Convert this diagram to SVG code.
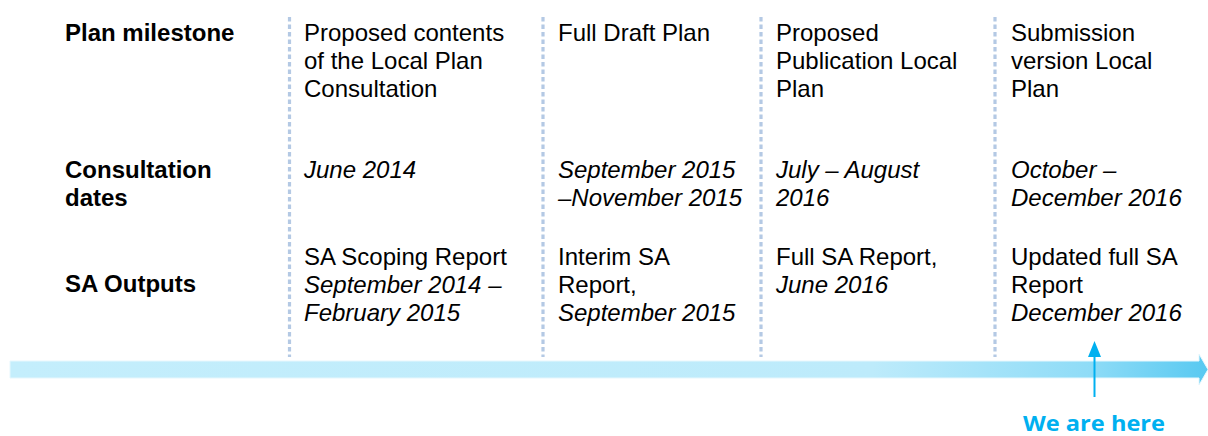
<svg xmlns="http://www.w3.org/2000/svg" width="1208" height="436" viewBox="0 0 1208 436">
<defs>
<linearGradient id="barGrad" x1="0" y1="0" x2="1" y2="0">
<stop offset="0" stop-color="#c4eefc"/>
<stop offset="0.72" stop-color="#bdebfb"/>
<stop offset="0.9" stop-color="#8fdcf7"/>
<stop offset="1" stop-color="#58c9f1"/>
</linearGradient>
</defs>
<style>
text{font-family:"Liberation Sans",Arial,sans-serif;font-size:24px;fill:#000}
.b{font-weight:bold}
.i{font-style:italic}
.sep{stroke:#b4c9e4;stroke-width:3.2;stroke-dasharray:4.5 3;fill:none}
.here{font-family:"Open Sans",sans-serif;font-weight:700;font-size:22px;fill:#00b0f0}
</style>
<g id="separators">
<line class="sep" x1="289.5" y1="17" x2="289.5" y2="357"/>
<line class="sep" x1="543" y1="17" x2="543" y2="357"/>
<line class="sep" x1="761" y1="17" x2="761" y2="357"/>
<line class="sep" x1="995" y1="17" x2="995" y2="357"/>
</g>
<g id="timeline">
<path d="M10,361 H1199 V354 L1208,369.5 L1199,385 V378 H10 Z" fill="url(#barGrad)" stroke="#e6f7fd" stroke-width="1"/>
</g>
<g id="row-labels">
<text class="b" x="65" y="41">Plan milestone</text>
<text class="b" x="65" y="178">Consultation</text>
<text class="b" x="65" y="206">dates</text>
<text class="b" x="65" y="292">SA Outputs</text>
</g>
<g id="col1">
<text x="304" y="41">Proposed contents</text>
<text x="304" y="69">of the Local Plan</text>
<text x="304" y="97">Consultation</text>
<text class="i" x="304" y="178">June 2014</text>
<text x="304" y="265">SA Scoping Report</text>
<text class="i" x="304" y="293">September 2014 –</text>
<text class="i" x="304" y="321">February 2015</text>
</g>
<g id="col2">
<text x="558" y="41">Full Draft Plan</text>
<text class="i" x="558" y="178">September 2015</text>
<text class="i" x="558" y="206">–November 2015</text>
<text x="558" y="265">Interim SA</text>
<text x="558" y="293">Report,</text>
<text class="i" x="558" y="321">September 2015</text>
</g>
<g id="col3">
<text x="776" y="41">Proposed</text>
<text x="776" y="69">Publication Local</text>
<text x="776" y="97">Plan</text>
<text class="i" x="776" y="178">July – August</text>
<text class="i" x="776" y="206">2016</text>
<text x="776" y="265">Full SA Report,</text>
<text class="i" x="776" y="293">June 2016</text>
</g>
<g id="col4">
<text x="1011" y="41">Submission</text>
<text x="1011" y="69">version Local</text>
<text x="1011" y="97">Plan</text>
<text class="i" x="1011" y="178">October –</text>
<text class="i" x="1011" y="206">December 2016</text>
<text x="1011" y="265">Updated full SA</text>
<text x="1011" y="293">Report</text>
<text class="i" x="1011" y="321">December 2016</text>
</g>
<g id="connectors">
<line x1="1094.5" y1="397" x2="1094.5" y2="354" stroke="#00b0f0" stroke-width="2"/>
<polygon points="1094.5,341 1101,357 1088,357" fill="#00b0f0"/>
</g>
<g id="we-are-here">
<text class="here" x="1023" y="431" textLength="142" lengthAdjust="spacingAndGlyphs">We are here</text>
</g>
</svg>
